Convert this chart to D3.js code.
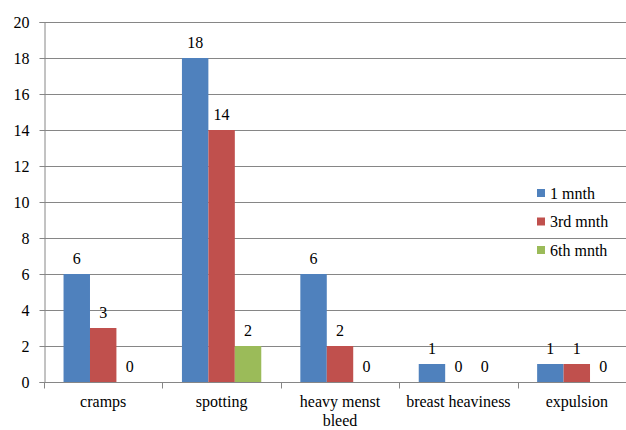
<!DOCTYPE html>
<html>
<head>
<meta charset="utf-8">
<script src="https://cdn.jsdelivr.net/npm/d3@7"></script>
<style>
  body { margin: 0; background: #fff; }
  svg { display: block; }
  svg text { font-family: "Liberation Serif", "Tinos", "DejaVu Serif", serif; }
</style>
</head>
<body>
<div id="chart"></div>
<script>
// chart data
const categories = ["cramps", "spotting", "heavy menst bleed", "breast heaviness", "expulsion"];
const categoryLabels = [["cramps"], ["spotting"], ["heavy menst", "bleed"], ["breast heaviness"], ["expulsion"]];
const seriesNames = ["1 mnth", "3rd mnth", "6th mnth"];
const month1 = [6, 18, 6, 1, 1];
const month3 = [3, 14, 2, 0, 1];
const month6 = [0, 2, 0, 0, 0];
const yTicks = [0, 2, 4, 6, 8, 10, 12, 14, 16, 18, 20];

const seriesValues = [month1, month3, month6];
const colors = ["#4F81BD", "#C0504D", "#9BBB59"];

const W = 626, H = 430;
const margin = { top: 22, left: 44, bottom: 48 };
const plotRight = 636; // plot runs past the right edge of the picture
const axisColor = "#868686";

const svg = d3.select("#chart").append("svg")
    .attr("width", W)
    .attr("height", H);

const y = d3.scaleLinear()
    .domain([0, 20])
    .range([H - margin.bottom, margin.top]);

const x0 = d3.scaleBand()
    .domain(categories)
    .range([margin.left, plotRight])
    .padding(0);

const gap = x0.bandwidth() * 0.165;
const x1 = d3.scaleBand()
    .domain(seriesNames)
    .range([gap, x0.bandwidth() - gap])
    .padding(0);

// gridlines
svg.append("g")
    .selectAll("line")
    .data(yTicks.filter(d => d > 0))
    .join("line")
    .attr("x1", margin.left)
    .attr("x2", plotRight)
    .attr("y1", d => Math.round(y(d)) + 0.5)
    .attr("y2", d => Math.round(y(d)) + 0.5)
    .attr("stroke", axisColor)
    .attr("stroke-width", 1);

// y axis
const yAxis = svg.append("g")
    .attr("transform", `translate(${margin.left + 0.5},0)`)
    .call(d3.axisLeft(y).tickValues(yTicks).tickSize(5).tickPadding(10).tickFormat(d3.format("d")));
yAxis.attr("font-family", null);
yAxis.selectAll("path, line").attr("stroke", axisColor);
yAxis.selectAll("text")
    .style("font-size", "16px")
    .attr("fill", "#000");

// x axis
const base = Math.round(y(0)) + 0.5;
svg.append("line")
    .attr("x1", margin.left)
    .attr("x2", plotRight)
    .attr("y1", base)
    .attr("y2", base)
    .attr("stroke", axisColor);

svg.append("g")
    .selectAll("line")
    .data(categories)
    .join("line")
    .attr("x1", d => Math.round(x0(d)) + 0.5)
    .attr("x2", d => Math.round(x0(d)) + 0.5)
    .attr("y1", base)
    .attr("y2", base + 6)
    .attr("stroke", axisColor);

// category labels
const catText = svg.append("g")
    .selectAll("text")
    .data(categories)
    .join("text")
    .attr("x", d => x0(d) + x0.bandwidth() / 2)
    .attr("y", 407)
    .attr("text-anchor", "middle")
    .style("font-size", "16px")
    .attr("fill", "#000");

catText.selectAll("tspan")
    .data((d, i) => categoryLabels[i])
    .join("tspan")
    .attr("x", function () { return d3.select(this.parentNode).attr("x"); })
    .attr("dy", (d, i) => i === 0 ? 0 : 19)
    .text(d => d);

// bars
const groups = svg.append("g")
    .selectAll("g")
    .data(categories)
    .join("g")
    .attr("transform", d => `translate(${x0(d)},0)`);

groups.selectAll("rect")
    .data((c, ci) => seriesNames.map((s, si) => ({ s, si, v: seriesValues[si][ci] })))
    .join("rect")
    .attr("x", d => x1(d.s))
    .attr("width", x1.bandwidth())
    .attr("y", d => y(d.v))
    .attr("height", d => y(0) - y(d.v))
    .attr("fill", d => colors[d.si]);

// value labels
groups.selectAll("text")
    .data((c, ci) => seriesNames.map((s, si) => ({ s, si, v: seriesValues[si][ci] })))
    .join("text")
    .attr("x", d => x1(d.s) + x1.bandwidth() / 2)
    .attr("y", d => y(d.v) - 10)
    .attr("text-anchor", "middle")
    .style("font-size", "16px")
    .attr("fill", "#000")
    .text(d => d.v);

// legend
const legend = svg.append("g")
    .selectAll("g")
    .data(seriesNames)
    .join("g")
    .attr("transform", (d, i) => `translate(537,${193 + i * 28.5})`);

legend.append("rect")
    .attr("x", 0)
    .attr("y", -4)
    .attr("width", 8)
    .attr("height", 8)
    .attr("fill", (d, i) => colors[i]);

legend.append("text")
    .attr("x", 13)
    .attr("y", 5.5)
    .style("font-size", "16px")
    .attr("fill", "#000")
    .text(d => d);
</script>
</body>
</html>
